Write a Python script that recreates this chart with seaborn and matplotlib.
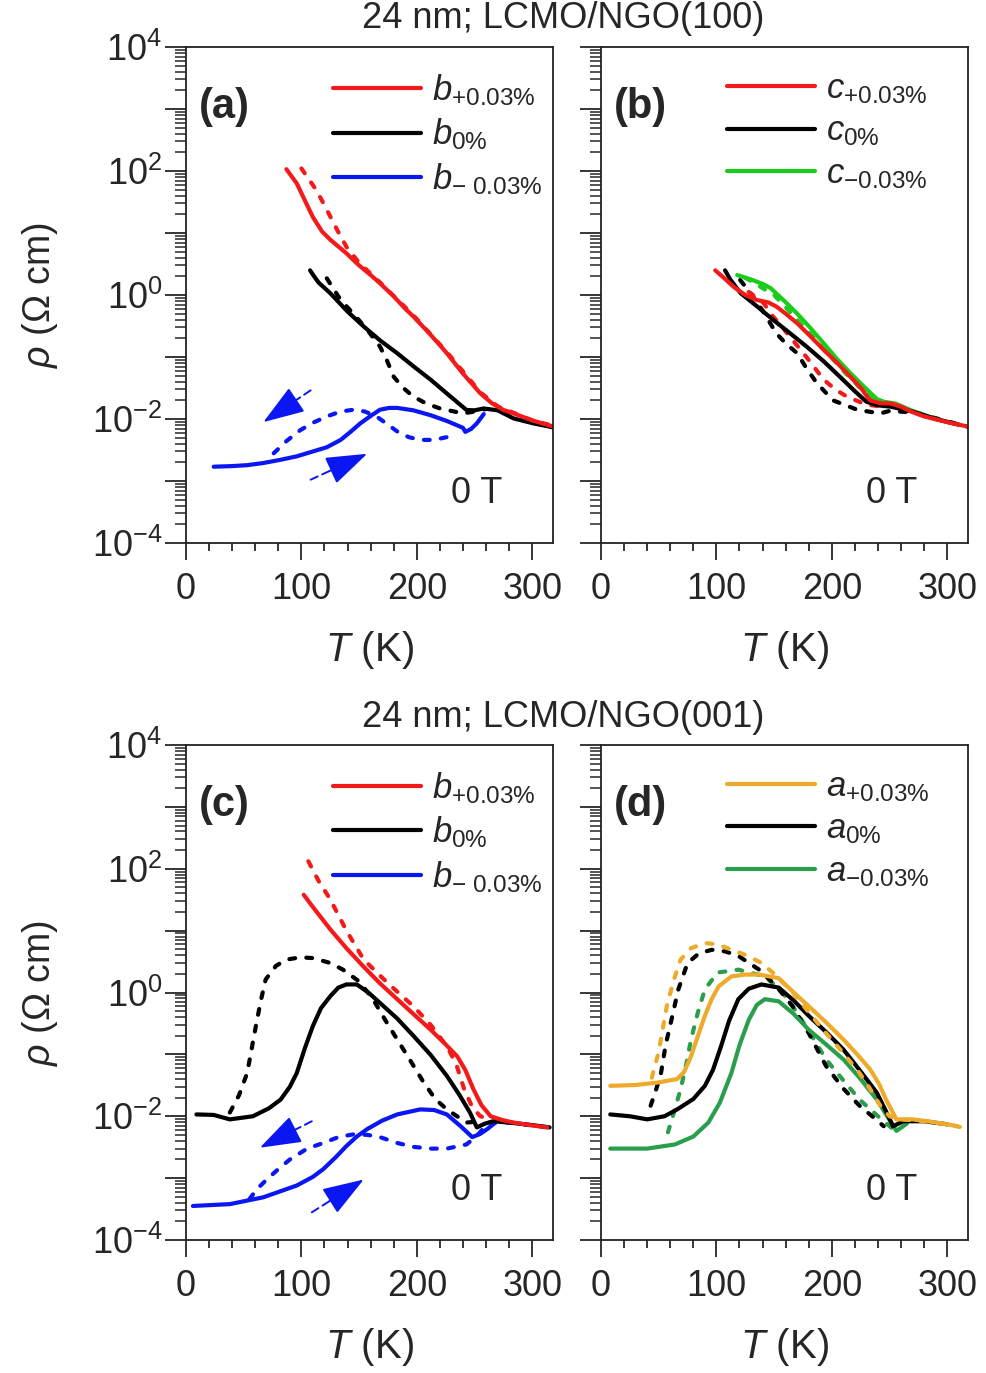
import math
import matplotlib
matplotlib.use("Agg")
import matplotlib.pyplot as plt
from matplotlib.ticker import LogLocator, MultipleLocator, FuncFormatter, NullFormatter
import seaborn as sns

# ---------------------------------------------------------------- data
# Temperatures in K, resistivities in Ohm cm.  "w" = warming (solid), "c" = cooling (dashed)

# (a) LCMO/NGO(100), strain along b
a_red_w_T = [87, 96, 105, 110, 118, 125, 139, 150, 160, 168, 180, 190, 197, 210, 220, 226, 240, 255, 265, 275, 284, 300, 320]
a_red_w_R = [107, 63, 28, 18, 10.5, 7.8, 4.7, 3.0, 2.1, 1.55, 0.95, 0.60, 0.45, 0.25, 0.155, 0.115, 0.054, 0.026, 0.018, 0.014, 0.0123, 0.0095, 0.0074]
a_red_c_T = [100, 107, 113, 120, 131, 139, 150, 168, 197, 226, 255, 270, 300, 320]
a_red_c_R = [110, 71, 49, 28, 11.2, 6.0, 3.3, 1.6, 0.47, 0.12, 0.027, 0.016, 0.0095, 0.0076]
a_blk_w_T = [107.5, 111, 115, 125, 140, 154, 168, 183, 197, 212, 228, 243, 250, 258, 270, 284, 301, 320]
a_blk_w_R = [2.5, 2.0, 1.58, 1.07, 0.54, 0.31, 0.186, 0.115, 0.071, 0.043, 0.024, 0.014, 0.0138, 0.0148, 0.0138, 0.0102, 0.0085, 0.0072]
a_blk_c_T = [122, 134, 145, 157, 168, 174, 180, 188, 197, 208, 220, 240, 250, 260]
a_blk_c_R = [1.86, 0.83, 0.50, 0.275, 0.148, 0.089, 0.048, 0.032, 0.023, 0.0178, 0.0148, 0.0123, 0.0132, 0.0145]
a_blu_w_T = [24, 40, 53, 67, 82, 96, 110, 122, 134, 143, 151, 160, 168, 176, 183, 197, 212, 226, 240, 242, 247, 252, 258]
a_blu_w_R = [0.0017, 0.00174, 0.0018, 0.00195, 0.0022, 0.0025, 0.0030, 0.0035, 0.0046, 0.0063, 0.0085, 0.0112, 0.0141, 0.0151, 0.0151, 0.0138, 0.0115, 0.0093, 0.0072, 0.0062, 0.0069, 0.0085, 0.012]
a_blu_c_T = [76, 87, 99, 110, 122, 134, 145, 155, 165, 175, 183, 193, 203, 215, 226]
a_blu_c_R = [0.0028, 0.0044, 0.0066, 0.0087, 0.011, 0.0132, 0.0141, 0.0132, 0.011, 0.0081, 0.0063, 0.0051, 0.0046, 0.0046, 0.0051]

# (b) LCMO/NGO(100), strain along c
b_red_w_T = [99, 105, 115, 125, 135, 145, 152, 160, 170, 181, 193, 205, 216, 225, 233, 242, 251, 260, 270, 280, 300, 317]
b_red_w_R = [2.5, 2.0, 1.35, 1.0, 0.83, 0.76, 0.65, 0.50, 0.35, 0.22, 0.13, 0.079, 0.048, 0.032, 0.020, 0.018, 0.0178, 0.0158, 0.0129, 0.011, 0.0089, 0.0076]
b_red_c_T = [128, 141, 147, 156, 164, 178, 193, 203, 213, 230, 245]
b_red_c_R = [1.12, 0.74, 0.50, 0.32, 0.21, 0.10, 0.043, 0.030, 0.023, 0.017, 0.0158]
b_blk_w_T = [107.5, 112, 121, 135, 149, 164, 178, 193, 207, 220, 230, 240, 251, 270, 290, 310]
b_blk_w_R = [2.5, 1.78, 1.07, 0.66, 0.40, 0.24, 0.148, 0.085, 0.048, 0.028, 0.019, 0.0166, 0.0158, 0.0132, 0.010, 0.0081]
b_blk_c_T = [120.6, 130, 140, 152, 160, 170, 178, 187, 201, 222, 242, 250, 270, 300, 318]
b_blk_c_R = [1.74, 1.05, 0.56, 0.24, 0.166, 0.115, 0.066, 0.038, 0.020, 0.0141, 0.0123, 0.0135, 0.0128, 0.0092, 0.0075]
b_grn_w_T = [118, 130, 140, 147, 158, 170, 181, 193, 204, 216, 228, 239, 245, 255, 270, 290, 310]
b_grn_w_R = [2.1, 1.78, 1.51, 1.29, 0.83, 0.50, 0.30, 0.166, 0.095, 0.055, 0.033, 0.021, 0.019, 0.0178, 0.0135, 0.010, 0.0081]
b_grn_c_T = [125, 150, 170, 190, 210, 230, 245, 270, 300]
b_grn_c_R = [1.9, 1.0, 0.40, 0.158, 0.060, 0.025, 0.0174, 0.0132, 0.0091]

# (c) LCMO/NGO(001), strain along b
c_red_w_T = [102, 110, 125, 139, 154, 168, 183, 197, 212, 224, 235, 242, 249, 256, 264, 274, 284, 300, 313]
c_red_w_R = [38, 24, 10.5, 5.2, 2.6, 1.41, 0.78, 0.45, 0.25, 0.151, 0.093, 0.056, 0.0275, 0.0151, 0.010, 0.0087, 0.0079, 0.0071, 0.0066]
c_red_c_T = [106, 115, 125, 139, 154, 175, 197, 212, 226, 234, 241, 248, 255, 265]
c_red_c_R = [132, 63, 32, 10, 3.4, 1.41, 0.60, 0.30, 0.135, 0.071, 0.0275, 0.0141, 0.010, 0.0087]
c_blk_w_T = [9, 24, 38, 58, 72, 82, 90, 96, 103, 110, 117, 125, 132, 139, 148, 158, 168, 183, 197, 212, 226, 237, 246, 252, 259, 266, 280, 300, 315]
c_blk_w_R = [0.0107, 0.0105, 0.0089, 0.010, 0.0135, 0.0186, 0.030, 0.050, 0.126, 0.29, 0.56, 0.87, 1.2, 1.35, 1.35, 1.0, 0.68, 0.38, 0.20, 0.098, 0.045, 0.022, 0.0115, 0.0066, 0.0076, 0.0083, 0.0079, 0.0072, 0.0066]
c_blk_c_T = [38, 46, 53, 57, 61, 65, 69, 78, 87, 99, 110, 125, 136, 150, 162, 173, 183, 195, 206, 216, 226, 243, 255]
c_blk_c_R = [0.0115, 0.022, 0.050, 0.126, 0.32, 0.76, 1.62, 2.7, 3.4, 3.7, 3.6, 3.0, 2.34, 1.51, 0.78, 0.35, 0.174, 0.076, 0.035, 0.019, 0.0129, 0.0079, 0.0083]
c_blu_w_T = [6, 38, 67, 96, 110, 119, 130, 139, 148, 157, 170, 183, 203, 215, 226, 238, 248, 255, 261, 268]
c_blu_w_R = [0.000355, 0.00038, 0.00049, 0.00076, 0.00105, 0.0014, 0.0022, 0.0033, 0.0047, 0.0062, 0.0085, 0.0107, 0.0129, 0.0126, 0.0107, 0.0069, 0.0046, 0.0052, 0.0062, 0.0079]
c_blu_c_T = [55, 62, 70, 80, 90, 105, 119, 132, 145, 157, 168, 183, 197, 212, 226, 243, 252, 262, 280, 300, 318]
c_blu_c_R = [0.00046, 0.00068, 0.00095, 0.0014, 0.002, 0.003, 0.0037, 0.0046, 0.0051, 0.005, 0.0046, 0.0037, 0.0032, 0.003, 0.003, 0.0035, 0.0048, 0.0079, 0.0079, 0.0071, 0.0065]

# (d) LCMO/NGO(001), strain along a
d_org_w_T = [8, 30, 49, 66, 72, 78, 84, 90, 96, 102, 113, 125, 137, 154, 167, 180, 195, 210, 222, 233, 241, 247, 256, 270, 283, 300, 309]
d_org_w_R = [0.031, 0.032, 0.035, 0.040, 0.052, 0.093, 0.20, 0.42, 0.79, 1.26, 1.82, 1.95, 1.95, 1.70, 1.0, 0.60, 0.33, 0.174, 0.10, 0.058, 0.033, 0.0186, 0.0089, 0.0089, 0.0083, 0.0074, 0.0069]
d_org_c_T = [44, 50, 57, 63, 69, 78, 90, 101, 113, 126, 139, 152, 166, 180, 195, 210, 224, 233, 242, 250, 260, 280, 300, 320]
d_org_c_R = [0.042, 0.11, 0.60, 1.58, 3.4, 5.2, 6.3, 6.0, 4.9, 4.0, 3.0, 1.86, 1.0, 0.48, 0.22, 0.105, 0.050, 0.028, 0.0148, 0.010, 0.0089, 0.0083, 0.0074, 0.0062]
d_blk_w_T = [8, 25, 40, 55, 66, 80, 90, 97, 104, 111, 119, 128, 139, 154, 167, 180, 195, 210, 224, 239, 247, 253, 262, 280, 300]
d_blk_w_R = [0.0107, 0.010, 0.0089, 0.010, 0.0129, 0.019, 0.031, 0.056, 0.135, 0.35, 0.78, 1.15, 1.35, 1.20, 0.74, 0.42, 0.23, 0.12, 0.056, 0.024, 0.012, 0.0069, 0.0083, 0.0083, 0.0074]
d_blk_c_T = [43, 48, 52, 56, 61, 67, 75, 85, 96, 108, 119, 137, 152, 166, 180, 195, 210, 224, 235, 245]
d_blk_c_R = [0.0148, 0.028, 0.050, 0.141, 0.36, 1.12, 3.0, 4.3, 4.9, 4.6, 3.9, 2.34, 1.26, 0.60, 0.22, 0.065, 0.028, 0.0148, 0.010, 0.0069]
d_grn_w_T = [8, 40, 64, 80, 93, 103, 113, 120, 128, 135, 142, 154, 167, 180, 195, 210, 224, 239, 248, 256, 265]
d_grn_w_R = [0.003, 0.003, 0.0035, 0.0047, 0.0079, 0.0166, 0.050, 0.141, 0.36, 0.63, 0.78, 0.72, 0.45, 0.25, 0.145, 0.083, 0.042, 0.0186, 0.010, 0.0058, 0.0076]
d_grn_c_T = [58, 63, 69, 74, 78, 84, 90, 101, 119, 142, 155, 166, 180, 195, 210, 224, 240, 253]
d_grn_c_R = [0.0055, 0.0112, 0.0275, 0.071, 0.174, 0.48, 1.12, 2.1, 2.34, 1.82, 1.12, 0.60, 0.24, 0.083, 0.038, 0.0186, 0.010, 0.0062]

# direction arrows (tail -> tip), panels (a) and (c)
a_arrow_cool = [(108, 0.029), (67, 0.0089)]
a_arrow_warm = [(108, 0.00105), (157, 0.00275)]
c_arrow_cool = [(109, 0.0083), (64, 0.0031)]
c_arrow_warm = [(109, 0.00028), (154, 0.00095)]

legend_a = [r"$b_{\mathregular{+0.03\%}}$", r"$b_{\mathregular{0\%}}$", r"$b_{\mathregular{-\ 0.03\%}}$"]
legend_b = [r"$c_{\mathregular{+0.03\%}}$", r"$c_{\mathregular{0\%}}$", r"$c_{\mathregular{-0.03\%}}$"]
legend_d = [r"$a_{\mathregular{+0.03\%}}$", r"$a_{\mathregular{0\%}}$", r"$a_{\mathregular{-0.03\%}}$"]

RED, BLK, BLU = "#f41a1a", "#000000", "#0b17f2"
GRN_B, ORG, GRN_D = "#1ccc1c", "#eeaa2a", "#2b9e4c"

# ---------------------------------------------------------------- style
sns.set_style("ticks")
plt.rcParams["font.family"] = ["Liberation Sans", "DejaVu Sans"]
plt.rcParams["mathtext.fontset"] = "custom"
plt.rcParams["mathtext.rm"] = "Liberation Sans"
plt.rcParams["mathtext.it"] = "Liberation Sans:italic"
plt.rcParams["mathtext.bf"] = "Liberation Sans:bold"
plt.rcParams["axes.linewidth"] = 1.3

fig = plt.figure(figsize=(9.86, 13.73), dpi=100)
W, H = 986, 1373


def make_axes(left_px, top_px, right_px, bottom_px):
    return fig.add_axes([left_px / W, 1 - bottom_px / H, (right_px - left_px) / W, (bottom_px - top_px) / H])


ax_a = make_axes(186, 47, 553, 543)
ax_b = make_axes(601, 47, 968, 543)
ax_c = make_axes(186, 745, 553, 1240)
ax_d = make_axes(601, 745, 968, 1240)

DASH = (0, (1.4, 2.7))
LW = 3.0


def curve(ax, T, R, color, dashed=False, label=None):
    sns.lineplot(x=T, y=R, ax=ax, color=color, lw=LW, sort=False, estimator=None,
                 linestyle=DASH if dashed else "-", dash_capstyle="round",
                 solid_capstyle="round", label=label, legend=False)


def dec_label(v, pos):
    e = int(round(math.log10(v)))
    if e % 2:
        return ""
    return r"$\mathregular{10^{%d}}$" % e


def style_axes(ax, show_ylabels):
    ax.set_yscale("log")
    ax.set_ylim(1e-4, 1e4)
    ax.set_xlim(0, 318)
    ax.yaxis.set_major_locator(LogLocator(base=10, numticks=20))
    ax.yaxis.set_minor_locator(LogLocator(base=10, subs=range(2, 10), numticks=200))
    ax.yaxis.set_minor_formatter(NullFormatter())
    if show_ylabels:
        ax.yaxis.set_major_formatter(FuncFormatter(dec_label))
    else:
        ax.yaxis.set_major_formatter(NullFormatter())
    ax.xaxis.set_major_locator(MultipleLocator(100))
    ax.xaxis.set_minor_locator(MultipleLocator(20))
    ax.tick_params(axis="y", which="major", direction="out", length=15, width=1.3, labelsize=26, pad=2)
    ax.tick_params(axis="y", which="minor", direction="out", length=8, width=1.1)
    ax.tick_params(axis="x", which="major", direction="out", length=12, width=1.3, labelsize=26, pad=9)
    ax.tick_params(axis="x", which="minor", direction="out", length=6, width=1.3)
    ax.tick_params(top=False, right=False, which="both")
    for s in ax.spines.values():
        s.set_visible(True)
        s.set_color("#222222")
    ax.set_xlabel(r"$T$ (K)", fontsize=29, labelpad=16)
    ax.set_ylabel("")


def arrow(ax, tail_tip, color):
    (t0, r0), (t1, r1) = tail_tip
    # thin dashed shaft
    ax.annotate("", xy=(t1, r1), xytext=(t0, r0),
                arrowprops=dict(arrowstyle="-", color=color, lw=1.4, linestyle=(0, (4, 2.5)),
                                shrinkA=0, shrinkB=8))
    # solid filled head
    ax.annotate("", xy=(t1, r1), xytext=(t0, r0),
                arrowprops=dict(arrowstyle="-|>,head_length=1.3,head_width=0.45",
                                color=color, lw=1.4, shrinkA=15, shrinkB=0, mutation_scale=20))


for ax in (ax_a, ax_b, ax_c, ax_d):
    ax.set_yscale("log")

# ---------------------------------------------------------------- (a)
curve(ax_a, a_blu_c_T, a_blu_c_R, BLU, dashed=True)
curve(ax_a, a_blk_c_T, a_blk_c_R, BLK, dashed=True)
curve(ax_a, a_red_c_T, a_red_c_R, RED, dashed=True)
curve(ax_a, a_blu_w_T, a_blu_w_R, BLU, label="L2")
curve(ax_a, a_blk_w_T, a_blk_w_R, BLK, label="L1")
curve(ax_a, a_red_w_T, a_red_w_R, RED, label="L0")
arrow(ax_a, a_arrow_cool, BLU)
arrow(ax_a, a_arrow_warm, BLU)

# ---------------------------------------------------------------- (b)
curve(ax_b, b_grn_c_T, b_grn_c_R, GRN_B, dashed=True)
curve(ax_b, b_blk_c_T, b_blk_c_R, BLK, dashed=True)
curve(ax_b, b_red_c_T, b_red_c_R, RED, dashed=True)
curve(ax_b, b_grn_w_T, b_grn_w_R, GRN_B, label="L2")
curve(ax_b, b_blk_w_T, b_blk_w_R, BLK, label="L1")
curve(ax_b, b_red_w_T, b_red_w_R, RED, label="L0")

# ---------------------------------------------------------------- (c)
curve(ax_c, c_blu_c_T, c_blu_c_R, BLU, dashed=True)
curve(ax_c, c_blk_c_T, c_blk_c_R, BLK, dashed=True)
curve(ax_c, c_red_c_T, c_red_c_R, RED, dashed=True)
curve(ax_c, c_blu_w_T, c_blu_w_R, BLU, label="L2")
curve(ax_c, c_blk_w_T, c_blk_w_R, BLK, label="L1")
curve(ax_c, c_red_w_T, c_red_w_R, RED, label="L0")
arrow(ax_c, c_arrow_cool, BLU)
arrow(ax_c, c_arrow_warm, BLU)

# ---------------------------------------------------------------- (d)
curve(ax_d, d_grn_c_T, d_grn_c_R, GRN_D, dashed=True)
curve(ax_d, d_blk_c_T, d_blk_c_R, BLK, dashed=True)
curve(ax_d, d_grn_w_T, d_grn_w_R, GRN_D, label="L2")
curve(ax_d, d_blk_w_T, d_blk_w_R, BLK, label="L1")
curve(ax_d, d_org_w_T, d_org_w_R, ORG, label="L0")
curve(ax_d, d_org_c_T, d_org_c_R, ORG, dashed=True)

style_axes(ax_a, True)
style_axes(ax_b, False)
style_axes(ax_c, True)
style_axes(ax_d, False)


def finish(ax, tag, labels, anchor_x):
    lines = sorted([l for l in ax.get_lines() if l.get_label() in ("L0", "L1", "L2")],
                   key=lambda l: l.get_label())
    ax.legend(handles=lines, labels=labels, loc="upper left",
              bbox_to_anchor=(anchor_x, 0.949), frameon=False, fontsize=25,
              handlelength=2.55, handletextpad=0.3, labelspacing=0.25,
              borderpad=0, borderaxespad=0)
    ax.text(0.035, 0.879, "(%s)" % tag, transform=ax.transAxes, fontsize=30,
            fontweight="bold", ha="left", va="center")
    ax.text(0.793, 0.099, "0 T", transform=ax.transAxes, fontsize=26, ha="center", va="center")


finish(ax_a, "a", legend_a, 0.40)
finish(ax_b, "b", legend_b, 0.343)
finish(ax_c, "c", legend_a, 0.40)
finish(ax_d, "d", legend_d, 0.343)

fig.text(0.571, 1 - 18 / H, "24 nm; LCMO/NGO(100)", ha="center", va="center", fontsize=26)
fig.text(0.571, 1 - 717 / H, "24 nm; LCMO/NGO(001)", ha="center", va="center", fontsize=26)
fig.text(40 / W, 1 - 295 / H, r"$\rho$ ($\mathregular{\Omega}$ cm)", rotation=90, ha="center", va="center", fontsize=27)
fig.text(40 / W, 1 - 993 / H, r"$\rho$ ($\mathregular{\Omega}$ cm)", rotation=90, ha="center", va="center", fontsize=27)

fig.savefig("out.png", dpi=100, facecolor="white")
